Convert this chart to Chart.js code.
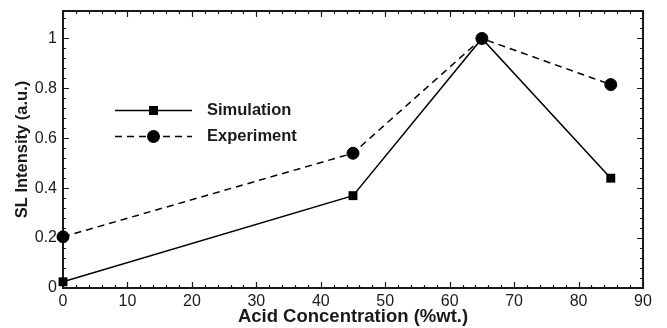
<!DOCTYPE html>
<html>
<head>
<meta charset="utf-8">
<script src="https://cdn.jsdelivr.net/npm/chart.js@4"></script>
<style>
html,body{margin:0;padding:0;background:#fff;}
#wrap{width:667px;height:328px;position:relative;}
</style>
</head>
<body>
<div id="wrap"><canvas id="c" width="667" height="328"></canvas></div>
<script>
// ---- data ----
const concentrations = [0, 45, 65, 85];
const simulation = [0.025, 0.37, 1.0, 0.44];
const experiment = [0.205, 0.54, 1.0, 0.815];
const xTickValues = [0, 10, 20, 30, 40, 50, 60, 70, 80, 90];
const yTickValues = [0, 0.2, 0.4, 0.6, 0.8, 1];
const yTickLabels = ['0', '0.2', '0.4', '0.6', '0.8', '1'];
const seriesNames = ['Simulation', 'Experiment'];
const xTitle = 'Acid Concentration (%wt.)';
const yTitle = 'SL Intensity (a.u.)';

const FONT = "'Liberation Sans', Arial, Helvetica, sans-serif";
const INK = '#1a1a1a';

function toPoints(xs, ys) { return xs.map((x, i) => ({x: x, y: ys[i]})); }

const framePlugin = {
  id: 'frame',
  beforeDatasetsDraw(chart) {
    const ctx = chart.ctx;
    const a = chart.chartArea;
    const xs = chart.scales.x, ys = chart.scales.y;
    ctx.save();
    ctx.strokeStyle = INK;
    ctx.lineWidth = 1.2;
    ctx.beginPath();
    // x ticks (major every 10, minor every 2), top and bottom, inward
    for (let v = 0; v <= 90 + 1e-9; v += 2) {
      const major = Math.abs(v / 10 - Math.round(v / 10)) < 1e-9;
      const len = major ? 6 : 3;
      const px = Math.round(xs.getPixelForValue(v)) + 0.5;
      ctx.moveTo(px, a.bottom); ctx.lineTo(px, a.bottom - len);
      ctx.moveTo(px, a.top); ctx.lineTo(px, a.top + len);
    }
    // y ticks (major every 0.2, minor every 0.04), left and right, inward
    for (let k = 0; k <= 27; k++) {
      const v = k * 0.04;
      if (v > 1.1) break;
      const major = k % 5 === 0;
      const len = major ? 6 : 3;
      const py = Math.round(ys.getPixelForValue(v)) + 0.5;
      ctx.moveTo(a.left, py); ctx.lineTo(a.left + len, py);
      ctx.moveTo(a.right, py); ctx.lineTo(a.right - len, py);
    }
    ctx.stroke();
    ctx.lineWidth = 2;
    ctx.strokeRect(a.left, a.top, a.right - a.left, a.bottom - a.top);
    ctx.restore();
  }
};

const legendPlugin = {
  id: 'inlineLegend',
  afterDatasetsDraw(chart) {
    const ctx = chart.ctx;
    const a = chart.chartArea;
    const x1 = a.left + 52, x2 = a.left + 129, xm = (x1 + x2) / 2, xt = a.left + 144;
    const rows = [a.top + 99.5, a.top + 125.5];
    ctx.save();
    chart.data.datasets.forEach((ds, i) => {
      const y = rows[i];
      ctx.strokeStyle = ds.borderColor;
      ctx.lineWidth = ds.borderWidth;
      ctx.setLineDash(ds.borderDash || []);
      ctx.beginPath(); ctx.moveTo(x1, y); ctx.lineTo(x2, y); ctx.stroke();
      ctx.setLineDash([]);
      ctx.fillStyle = ds.pointBackgroundColor;
      if (ds.pointStyle === 'rect') {
        const s = 4.5;
        ctx.fillRect(xm - s, y - s, 2 * s, 2 * s);
      } else {
        ctx.beginPath(); ctx.arc(xm, y, 6.5, 0, Math.PI * 2); ctx.fill();
      }
      ctx.fillStyle = INK;
      ctx.font = 'bold 16.5px ' + FONT;
      ctx.textBaseline = 'middle';
      ctx.textAlign = 'left';
      ctx.fillText(ds.label, xt, y);
    });
    ctx.restore();
  }
};

new Chart(document.getElementById('c'), {
  type: 'line',
  data: {
    datasets: [
      {
        label: seriesNames[0],
        data: toPoints(concentrations, simulation),
        borderColor: '#000',
        borderWidth: 1.5,
        pointStyle: 'rect',
        pointRadius: 6.3,
        pointBorderWidth: 0,
        pointBackgroundColor: '#000',
        pointBorderColor: '#000',
        tension: 0,
        clip: false
      },
      {
        label: seriesNames[1],
        data: toPoints(concentrations, experiment),
        borderColor: '#000',
        borderWidth: 1.5,
        borderDash: [7, 5],
        pointStyle: 'circle',
        pointRadius: 6,
        pointBorderWidth: 1,
        pointBackgroundColor: '#000',
        pointBorderColor: '#000',
        tension: 0,
        clip: false
      }
    ]
  },
  plugins: [framePlugin, legendPlugin],
  options: {
    responsive: false,
    animation: false,
    devicePixelRatio: 1,
    layout: {padding: {left: 0, right: 24, top: 11, bottom: 0}},
    plugins: {legend: {display: false}, tooltip: {enabled: false}},
    scales: {
      x: {
        type: 'linear',
        min: 0, max: 90,
        afterFit(s) { s.height = 40; s.paddingLeft = 0; s.paddingRight = 0; },
        afterBuildTicks(s) { s.ticks = xTickValues.map(v => ({value: v})); },
        grid: {display: false, drawTicks: false},
        border: {display: false},
        ticks: {
          padding: 4,
          color: INK,
          font: {family: FONT, size: 16},
          maxRotation: 0,
          autoSkip: false,
          callback: (v) => String(v)
        },
        title: {
          display: true,
          text: xTitle,
          color: INK,
          font: {family: FONT, size: 18.5, weight: 'bold'},
          padding: {top: 0, bottom: 0}
        }
      },
      y: {
        type: 'linear',
        min: 0, max: 1.11,
        afterFit(s) { s.width = 63; s.paddingTop = 0; s.paddingBottom = 0; },
        afterBuildTicks(s) { s.ticks = yTickValues.map(v => ({value: v})); },
        grid: {display: false, drawTicks: false},
        border: {display: false},
        ticks: {
          padding: 6,
          color: INK,
          font: {family: FONT, size: 16},
          autoSkip: false,
          callback: (v, i) => yTickLabels[i]
        },
        title: {
          display: true,
          text: yTitle,
          color: INK,
          font: {family: FONT, size: 16.5, weight: 'bold'},
          padding: {top: 12.5, bottom: 0}
        }
      }
    }
  }
});
</script>
</body>
</html>
